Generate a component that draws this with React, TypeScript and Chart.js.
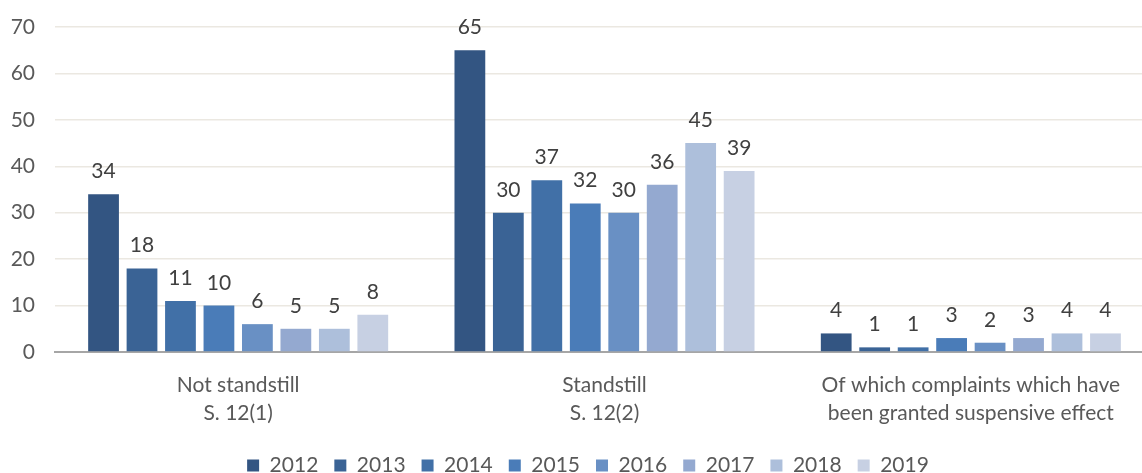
import React, { useEffect, useRef } from "react";
import { Chart, registerables } from "chart.js";

Chart.register(...registerables);

const categories: string[][] = [
  ["Not standstill", "S. 12(1)"],
  ["Standstill", "S. 12(2)"],
  ["Of which complaints which have", "been granted suspensive effect"],
];
const years = ["2012", "2013", "2014", "2015", "2016", "2017", "2018", "2019"];
const v2012 = [34, 65, 4];
const v2013 = [18, 30, 1];
const v2014 = [11, 37, 1];
const v2015 = [10, 32, 3];
const v2016 = [6, 30, 2];
const v2017 = [5, 36, 3];
const v2018 = [5, 45, 4];
const v2019 = [8, 39, 4];
const seriesValues = [v2012, v2013, v2014, v2015, v2016, v2017, v2018, v2019];
const colors = ["#335582", "#3a6395", "#4170a7", "#4a7cb8", "#6990c4", "#94a9d0", "#adbfdb", "#c7d0e3"];

const FONT = "Lato, 'Open Sans', sans-serif";

const valueLabels = {
  id: "valueLabels",
  afterDatasetsDraw(chart: any) {
    const ctx = chart.ctx;
    ctx.save();
    ctx.font = `21px ${FONT}`;
    ctx.fillStyle = "#404040";
    ctx.textAlign = "center";
    ctx.textBaseline = "alphabetic";
    chart.data.datasets.forEach((ds: any, i: number) => {
      const meta = chart.getDatasetMeta(i);
      meta.data.forEach((el: any, j: number) => {
        ctx.fillText(String(ds.data[j]), el.x, el.y - 16);
      });
    });
    ctx.restore();
  },
};

const legendFit = {
  id: "legendFit",
  beforeLayout(chart: any) {
    const lg = chart.legend;
    if (lg && !lg._patched) {
      const orig = lg.fit;
      lg.fit = function () {
        orig.call(this);
        this.height = 34;
      };
      lg._patched = true;
    }
  },
  afterLayout(chart: any) {
    const lg = chart.legend;
    if (lg) {
      lg.left += 11;
      lg.right += 11;
    }
  },
};

export default function App() {
  const ref = useRef<HTMLCanvasElement>(null);
  useEffect(() => {
    document.body.style.margin = "0";
    const chart = new Chart(ref.current!, {
      type: "bar",
      data: {
        labels: categories,
        datasets: years.map((y, i) => ({
          label: y,
          data: seriesValues[i],
          backgroundColor: colors[i],
          barPercentage: 0.8,
          categoryPercentage: 0.84,
        })),
      },
      options: {
        animation: false,
        responsive: false,
        layout: { padding: { top: 27, right: 6, left: 0, bottom: 0 } },
        plugins: {
          legend: {
            position: "bottom",
            labels: {
              boxWidth: 12,
              boxHeight: 12,
              padding: 16,
              color: "#595959",
              font: { family: FONT, size: 21 },
            },
          },
          tooltip: { enabled: false },
        },
        scales: {
          x: {
            grid: { display: false },
            border: { display: true, color: "#a6a6a6", width: 2 },
            ticks: { color: "#595959", font: { family: FONT, size: 21, lineHeight: 1.33 }, padding: 11 },
            afterFit: (s: any) => { s.height = 87; },
          },
          y: {
            min: 0,
            max: 70,
            ticks: { stepSize: 10, color: "#595959", font: { family: FONT, size: 21 }, padding: 20 },
            grid: { color: "#ebe8e1", lineWidth: 1.5, drawTicks: false },
            border: { display: false },
            afterFit: (s: any) => { s.width = 55; s.paddingTop = 0; s.paddingBottom = 0; },
          },
        },
      },
      plugins: [valueLabels, legendFit],
    });
    return () => chart.destroy();
  }, []);
  return (
    <div style={{ width: 1142, height: 473, overflow: "hidden", background: "#fff" }}>
      <canvas ref={ref} width={1160} height={473} style={{ display: "block" }} />
    </div>
  );
}
